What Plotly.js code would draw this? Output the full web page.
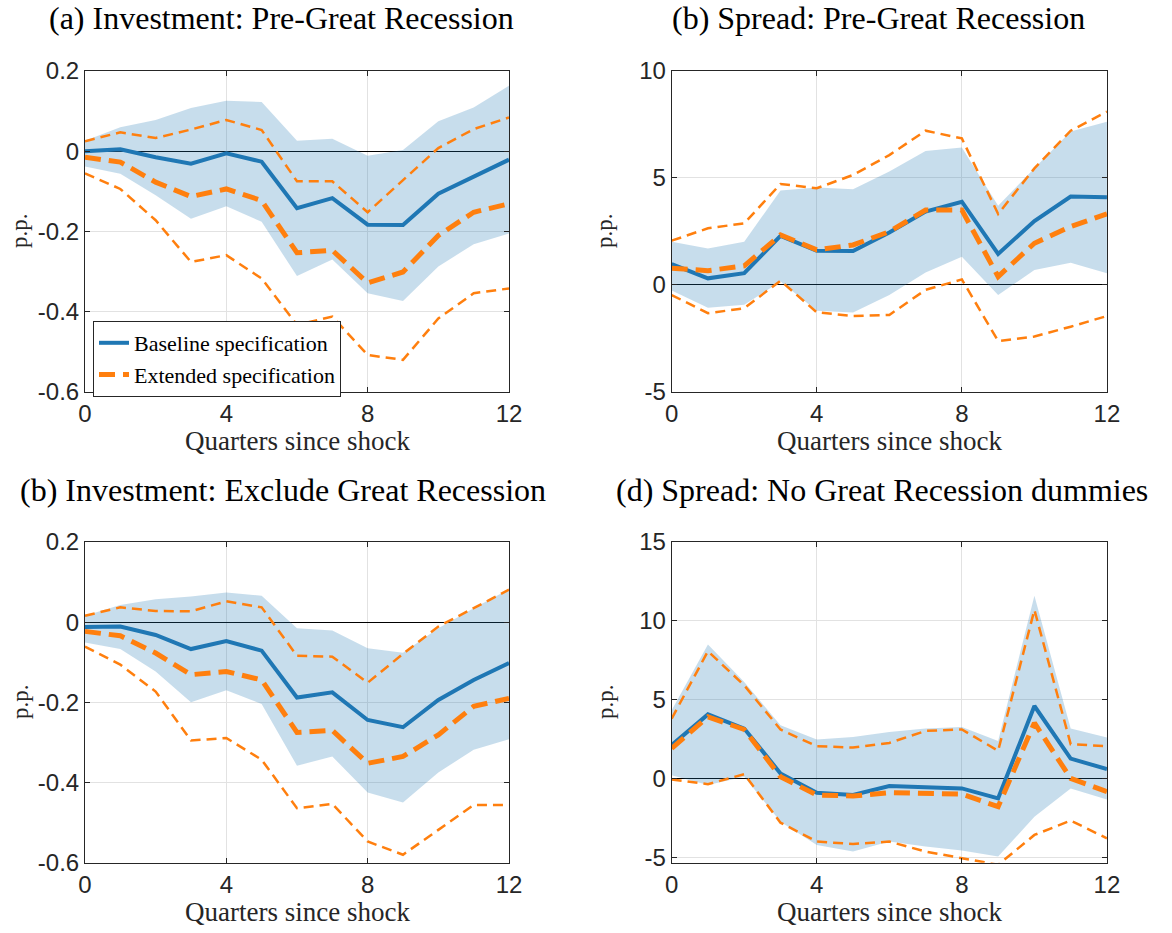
<!DOCTYPE html>
<html>
<head>
<meta charset="utf-8">
<script src="https://cdn.plot.ly/plotly-3.0.1.min.js"></script>
<style>html,body{margin:0;padding:0;background:#fff;}#chart{width:1172px;height:933px;}</style>
</head>
<body>
<div id="chart"></div>
<script>
// ---------- data ----------
const quarters = [0, 1, 2, 3, 4, 5, 6, 7, 8, 9, 10, 11, 12];

// (a) Investment: Pre-Great Recession
const aBase   = [0.000, 0.005, -0.015, -0.031, -0.005, -0.026, -0.142, -0.117, -0.183, -0.184, -0.106, -0.063, -0.021];
const aBandHi = [0.026, 0.060, 0.078, 0.108, 0.126, 0.123, 0.026, 0.031, -0.011, 0.003, 0.075, 0.109, 0.163];
const aBandLo = [-0.038, -0.056, -0.110, -0.168, -0.137, -0.176, -0.311, -0.270, -0.354, -0.373, -0.287, -0.232, -0.205];
const aExt    = [-0.015, -0.027, -0.077, -0.113, -0.094, -0.123, -0.253, -0.247, -0.328, -0.301, -0.210, -0.152, -0.131];
const aExtHi  = [0.025, 0.047, 0.033, 0.054, 0.078, 0.053, -0.075, -0.075, -0.152, -0.071, 0.008, 0.055, 0.084];
const aExtLo  = [-0.055, -0.094, -0.172, -0.276, -0.259, -0.317, -0.433, -0.412, -0.508, -0.520, -0.417, -0.354, -0.342];

// (b) Spread: Pre-Great Recession
const bBase   = [0.98, 0.31, 0.55, 2.29, 1.60, 1.59, 2.45, 3.43, 3.89, 1.45, 2.99, 4.13, 4.10];
const bBandHi = [2.02, 1.71, 2.02, 4.41, 4.55, 4.47, 5.30, 6.26, 6.43, 3.70, 5.45, 7.17, 7.63];
const bBandLo = [-0.26, -1.06, -0.93, 0.16, -1.20, -1.29, -0.47, 0.58, 1.32, -0.47, 0.70, 1.04, 0.55];
const bExt    = [0.78, 0.67, 0.89, 2.34, 1.64, 1.87, 2.49, 3.50, 3.50, 0.39, 1.95, 2.73, 3.32];
const bExtHi  = [2.07, 2.65, 2.88, 4.72, 4.52, 5.14, 6.07, 7.21, 6.85, 3.32, 5.45, 7.21, 8.10];
const bExtLo  = [-0.47, -1.32, -1.09, 0.20, -1.28, -1.45, -1.40, -0.23, 0.26, -2.62, -2.41, -1.95, -1.45];

// (c) Investment: Exclude Great Recession
const cBase   = [-0.012, -0.011, -0.032, -0.067, -0.047, -0.071, -0.188, -0.175, -0.244, -0.262, -0.194, -0.144, -0.102];
const cBandHi = [0.016, 0.043, 0.057, 0.064, 0.074, 0.066, -0.015, -0.021, -0.065, -0.076, -0.015, 0.035, 0.082];
const cBandLo = [-0.051, -0.067, -0.123, -0.200, -0.170, -0.204, -0.358, -0.335, -0.425, -0.450, -0.375, -0.318, -0.292];
const cExt    = [-0.023, -0.034, -0.077, -0.131, -0.123, -0.144, -0.275, -0.270, -0.352, -0.335, -0.281, -0.210, -0.190];
const cExtHi  = [0.016, 0.037, 0.028, 0.027, 0.052, 0.037, -0.084, -0.086, -0.151, -0.079, -0.011, 0.035, 0.081];
const cExtLo  = [-0.061, -0.106, -0.173, -0.295, -0.289, -0.343, -0.464, -0.453, -0.547, -0.580, -0.518, -0.456, -0.456];

// (d) Spread: No Great Recession dummies
const dBase   = [2.13, 4.08, 3.18, 0.34, -0.88, -1.03, -0.46, -0.55, -0.61, -1.24, 4.61, 1.28, 0.61];
const dBandHi = [4.34, 8.51, 6.13, 3.39, 2.48, 2.65, 2.97, 3.18, 3.28, 2.40, 11.6, 3.18, 2.61];
const dBandLo = [0.23, -0.40, 0.13, -2.72, -4.19, -4.61, -3.98, -4.29, -4.55, -4.93, -2.40, -0.61, -1.31];
const dExt    = [1.92, 3.92, 3.12, 0.13, -1.03, -1.09, -0.88, -0.93, -0.97, -1.77, 3.54, 0.02, -0.82];
const dExtHi  = [3.81, 8.08, 5.92, 3.12, 2.06, 1.98, 2.27, 3.03, 3.12, 1.77, 10.7, 2.19, 2.06];
const dExtLo  = [-0.04, -0.34, 0.29, -2.78, -3.98, -4.13, -3.98, -4.61, -5.03, -5.45, -3.56, -2.65, -3.77];

// tick labels
const quarterTicks = [0, 4, 8, 12];
const quarterLabels = ['0', '4', '8', '12'];
const invTicks = [-0.6, -0.4, -0.2, 0, 0.2];
const invLabels = ['-0.6', '-0.4', '-0.2', '0', '0.2'];
const spreadBTicks = [-5, 0, 5, 10];
const spreadBLabels = ['-5', '0', '5', '10'];
const spreadDTicks = [-5, 0, 5, 10, 15];
const spreadDLabels = ['-5', '0', '5', '10', '15'];

const titles = ['(a) Investment: Pre-Great Recession', '(b) Spread: Pre-Great Recession',
                '(b) Investment: Exclude Great Recession', '(d) Spread: No Great Recession dummies'];
const xTitle = 'Quarters since shock';
const yTitle = 'p.p.';
const seriesNames = ['Baseline specification', 'Extended specification'];

// ---------- styling ----------
const BLUE = 'rgb(31,119,180)';
const ORANGE = 'rgb(255,127,14)';
const BAND = 'rgba(31,119,180,0.25)';
const AXC = 'rgb(38,38,38)';
const SERIF = 'Liberation Serif, Times New Roman, serif';
const SANS = 'Liberation Sans, Arial, sans-serif';

function panelTraces(n, base, hi, lo, ext, extHi, extLo, showLeg) {
  const xa = n === 1 ? 'x' : 'x' + n;
  const ya = n === 1 ? 'y' : 'y' + n;
  const bandX = quarters.concat(quarters.slice().reverse());
  const bandY = hi.concat(lo.slice().reverse());
  return [
    {x: bandX, y: bandY, xaxis: xa, yaxis: ya, type: 'scatter', mode: 'lines', fill: 'toself',
     fillcolor: BAND, line: {width: 0, color: BAND}, hoverinfo: 'skip', showlegend: false},
    {x: quarters, y: base, xaxis: xa, yaxis: ya, type: 'scatter', mode: 'lines',
     line: {color: BLUE, width: 4}, name: seriesNames[0], showlegend: showLeg},
    {x: quarters, y: ext, xaxis: xa, yaxis: ya, type: 'scatter', mode: 'lines',
     line: {color: ORANGE, width: 5, dash: '16px,8px'}, name: seriesNames[1], showlegend: showLeg},
    {x: quarters, y: extHi, xaxis: xa, yaxis: ya, type: 'scatter', mode: 'lines',
     line: {color: ORANGE, width: 2.5, dash: '10px,6px'}, showlegend: false},
    {x: quarters, y: extLo, xaxis: xa, yaxis: ya, type: 'scatter', mode: 'lines',
     line: {color: ORANGE, width: 2.5, dash: '10px,6px'}, showlegend: false}
  ];
}

const data = [].concat(
  panelTraces(1, aBase, aBandHi, aBandLo, aExt, aExtHi, aExtLo, true),
  panelTraces(2, bBase, bBandHi, bBandLo, bExt, bExtHi, bExtLo, false),
  panelTraces(3, cBase, cBandHi, cBandLo, cExt, cExtHi, cExtLo, false),
  panelTraces(4, dBase, dBandHi, dBandLo, dExt, dExtHi, dExtLo, false)
);

function xAxis(domain, anchor) {
  return {domain: domain, anchor: anchor, range: [0, 12], tickmode: 'array',
    tickvals: quarterTicks, ticktext: quarterLabels, ticks: 'inside', ticklen: 5,
    tickcolor: AXC, showline: true, linecolor: AXC, linewidth: 1, mirror: 'ticks',
    showgrid: true, gridcolor: 'rgb(226,226,226)', gridwidth: 1, zeroline: false,
    tickfont: {family: SANS, size: 24, color: AXC}, fixedrange: true};
}
function yAxis(domain, anchor, range, vals, labels) {
  return {domain: domain, anchor: anchor, range: range, tickmode: 'array',
    tickvals: vals, ticktext: labels, ticks: 'inside', ticklen: 5,
    tickcolor: AXC, showline: true, linecolor: AXC, linewidth: 1, mirror: 'ticks',
    showgrid: true, gridcolor: 'rgb(226,226,226)', gridwidth: 1,
    zeroline: true, zerolinecolor: 'rgb(0,0,0)', zerolinewidth: 1,
    tickfont: {family: SANS, size: 24, color: AXC}, fixedrange: true};
}

const colL = [0.0725, 0.4343], colR = [0.5731, 0.9445];
const rowT = [0.5799, 0.9239], rowB = [0.0753, 0.4191];

const annotations = [];
const titlePos = [[281, 18], [878, 18], [283, 490], [882, 490]];
titles.forEach((t, i) => annotations.push({text: t, xref: 'paper', yref: 'paper',
  x: titlePos[i][0] / 1172, y: 1 - titlePos[i][1] / 933, xanchor: 'center', yanchor: 'middle',
  showarrow: false, font: {family: SERIF, size: 32, color: '#000'}}));
const xtPos = [[297, 441], [889, 441], [297, 912], [889, 912]];
xtPos.forEach(p => annotations.push({text: xTitle, xref: 'paper', yref: 'paper',
  x: p[0] / 1172, y: 1 - p[1] / 933, xanchor: 'center', yanchor: 'middle',
  showarrow: false, font: {family: SERIF, size: 27, color: AXC}}));
const ytPos = [[20, 231], [605, 231], [20, 702], [605, 702]];
ytPos.forEach(p => annotations.push({text: yTitle, xref: 'paper', yref: 'paper',
  x: p[0] / 1172, y: 1 - p[1] / 933, xanchor: 'center', yanchor: 'middle', textangle: -90,
  showarrow: false, font: {family: SERIF, size: 23, color: AXC}}));

const layout = {
  width: 1172, height: 933,
  margin: {l: 0, r: 0, t: 0, b: 0},
  paper_bgcolor: '#fff', plot_bgcolor: '#fff',
  showlegend: true,
  legend: {x: 93 / 1172, y: 1 - 321 / 933, xanchor: 'left', yanchor: 'top',
    bgcolor: '#fff', bordercolor: AXC, borderwidth: 1,
    font: {family: SERIF, size: 22, color: '#000'}, tracegroupgap: 0, itemwidth: 30},
  xaxis: xAxis(colL, 'y'), yaxis: yAxis(rowT, 'x', [-0.6, 0.2], invTicks, invLabels),
  xaxis2: xAxis(colR, 'y2'), yaxis2: yAxis(rowT, 'x2', [-5, 10], spreadBTicks, spreadBLabels),
  xaxis3: xAxis(colL, 'y3'), yaxis3: yAxis(rowB, 'x3', [-0.6, 0.2], invTicks, invLabels),
  xaxis4: xAxis(colR, 'y4'), yaxis4: yAxis(rowB, 'x4', [-5.32, 15], spreadDTicks, spreadDLabels),
  annotations: annotations
};

Plotly.newPlot('chart', data, layout, {displayModeBar: false, staticPlot: true});
</script>
</body>
</html>
